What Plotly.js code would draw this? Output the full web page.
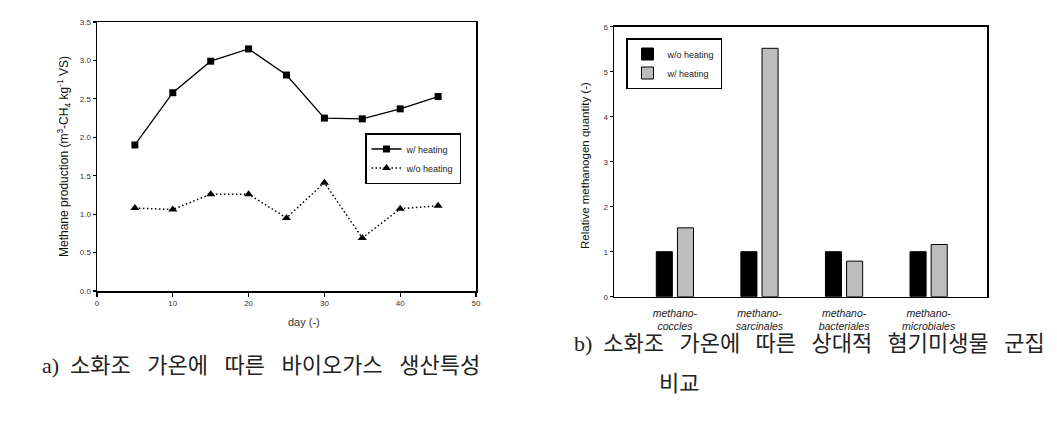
<!DOCTYPE html>
<html>
<head>
<meta charset="utf-8">
<script src="https://cdn.plot.ly/plotly-3.0.1.min.js"></script>
<style>
html,body{margin:0;padding:0;background:#fff;}
#chart{width:1057px;height:421px;}
</style>
</head>
<body>
<div id="chart"></div>
<script>
// ---- Data: panel a) ----
const days = [5, 10, 15, 20, 25, 30, 35, 40, 45];
const withHeating = [1.90, 2.58, 2.99, 3.15, 2.81, 2.25, 2.24, 2.37, 2.53];
const withoutHeating = [1.08, 1.06, 1.26, 1.26, 0.95, 1.41, 0.69, 1.07, 1.11];
const xTicksA = [0, 10, 20, 30, 40, 50];
const yTicksA = [0.0, 0.5, 1.0, 1.5, 2.0, 2.5, 3.0, 3.5];

// ---- Data: panel b) ----
const groups = ["methano-<br>coccles", "methano-<br>sarcinales", "methano-<br>bacteriales", "methano-<br>microbiales"];
const relWithout = [1.0, 1.0, 1.0, 1.0];
const relWith = [1.53, 5.52, 0.79, 1.16];
const yTicksB = [0, 1, 2, 3, 4, 5, 6];

const W = 1057, H = 421;
const px = v => v / W;
const py = v => (H - v) / H;

const sans = 'Liberation Sans, Arial, sans-serif';
const kfont = 'Liberation Serif, Noto Sans CJK KR, serif';
const NB = '\u00a0';
const sp = n => NB.repeat(n);
const gapB = sp(2) + '\u2009';

const traces = [
  {
    x: days, y: withHeating, name: 'w/ heating', type: 'scatter', mode: 'lines+markers',
    xaxis: 'x', yaxis: 'y', legend: 'legend',
    line: {color: '#000', width: 1.3, dash: 'solid'},
    marker: {symbol: 'square', size: 7, color: '#000'}
  },
  {
    x: days, y: withoutHeating, name: 'w/o heating', type: 'scatter', mode: 'lines+markers',
    xaxis: 'x', yaxis: 'y', legend: 'legend',
    line: {color: '#000', width: 1.5, dash: '1.5px,2.5px'},
    marker: {symbol: 'triangle-up', size: 8, color: '#000'}
  },
  {
    x: groups, y: relWithout, name: 'w/o heating', type: 'bar',
    xaxis: 'x2', yaxis: 'y2', legend: 'legend2',
    marker: {color: '#000', line: {color: '#000', width: 1}}
  },
  {
    x: groups, y: relWith, name: 'w/ heating', type: 'bar',
    xaxis: 'x2', yaxis: 'y2', legend: 'legend2',
    marker: {color: '#bdbdbd', line: {color: '#000', width: 1}}
  }
];

const axisCommon = {
  showgrid: false, zeroline: false, showline: true, linecolor: '#000', linewidth: 1.5,
  mirror: true, ticks: 'outside', ticklen: 4, tickwidth: 1.2, tickcolor: '#000',
  tickfont: {family: sans, size: 8, color: '#333'}
};

const layout = {
  width: W, height: H,
  margin: {l: 0, r: 0, t: 0, b: 0},
  paper_bgcolor: '#fff', plot_bgcolor: '#fff',
  showlegend: true,
  barmode: 'group', bargap: 0.5, bargroupgap: 0.24,
  xaxis: Object.assign({}, axisCommon, {
    domain: [px(97), px(476)], anchor: 'y', range: [0, 50],
    tickvals: xTicksA, ticktext: xTicksA.map(String)
  }),
  yaxis: Object.assign({}, axisCommon, {
    domain: [py(291), py(22)], anchor: 'x', range: [0, 3.5],
    tickvals: yTicksA, ticktext: yTicksA.map(v => v.toFixed(1)), ticklen: 3
  }),
  xaxis2: Object.assign({}, axisCommon, {
    domain: [px(614), px(987)], anchor: 'y2', type: 'category', range: [-0.72, 3.69],
    ticks: '', ticklabelstandoff: 6,
    tickfont: {family: sans, size: 10.5, color: '#222', style: 'italic'}
  }),
  yaxis2: Object.assign({}, axisCommon, {
    domain: [py(296.7), py(26.7)], anchor: 'x2', range: [0, 6],
    tickvals: yTicksB, ticktext: yTicksB.map(String), ticklen: 3
  }),
  legend: {
    x: px(365), y: py(133), xanchor: 'left', yanchor: 'top',
    bordercolor: '#000', borderwidth: 1.5, bgcolor: '#fff',
    font: {family: sans, size: 9, color: '#222'},
    tracegroupgap: 0, itemwidth: 30
  },
  legend2: {
    x: px(626), y: py(38), xanchor: 'left', yanchor: 'top',
    bordercolor: '#000', borderwidth: 1.5, bgcolor: '#fff',
    font: {family: sans, size: 9, color: '#222'},
    tracegroupgap: 0, itemwidth: 30
  },
  annotations: [
    {text: 'Methane production (m<sup>3</sup>-CH<sub>4</sub> kg<sup>-1</sup> VS)', textangle: -90,
     x: px(53), y: py(157), xref: 'paper', yref: 'paper', showarrow: false,
     font: {family: sans, size: 12, color: '#111'}},
    {text: 'day (-)', x: px(286), y: py(330), xref: 'paper', yref: 'paper', showarrow: false,
     font: {family: sans, size: 11, color: '#333'}},
    {text: 'Relative methanogen quantity (-)', textangle: -90,
     x: px(585), y: py(166), xref: 'paper', yref: 'paper', showarrow: false,
     font: {family: sans, size: 11.5, color: '#111'}},
    {text: 'a)' + sp(2) + '소화조' + sp(3) + '가온에' + sp(3) + '따른' + sp(3) + '바이오가스' + sp(3) + '생산특성',
     x: px(40), y: py(380), xref: 'paper', yref: 'paper', xanchor: 'left', showarrow: false,
     font: {family: kfont, size: 22, color: '#222'}},
    {text: 'b)' + sp(2) + '소화조' + gapB + '가온에' + gapB + '따른' + gapB + '상대적' + gapB + '혐기미생물' + gapB + '군집',
     x: px(572), y: py(358), xref: 'paper', yref: 'paper', xanchor: 'left', showarrow: false,
     font: {family: kfont, size: 22, color: '#222'}},
    {text: '비교',
     x: px(657), y: py(398), xref: 'paper', yref: 'paper', xanchor: 'left', showarrow: false,
     font: {family: kfont, size: 22, color: '#222'}}
  ]
};

Plotly.newPlot('chart', traces, layout, {staticPlot: true, displayModeBar: false});
</script>
</body>
</html>
